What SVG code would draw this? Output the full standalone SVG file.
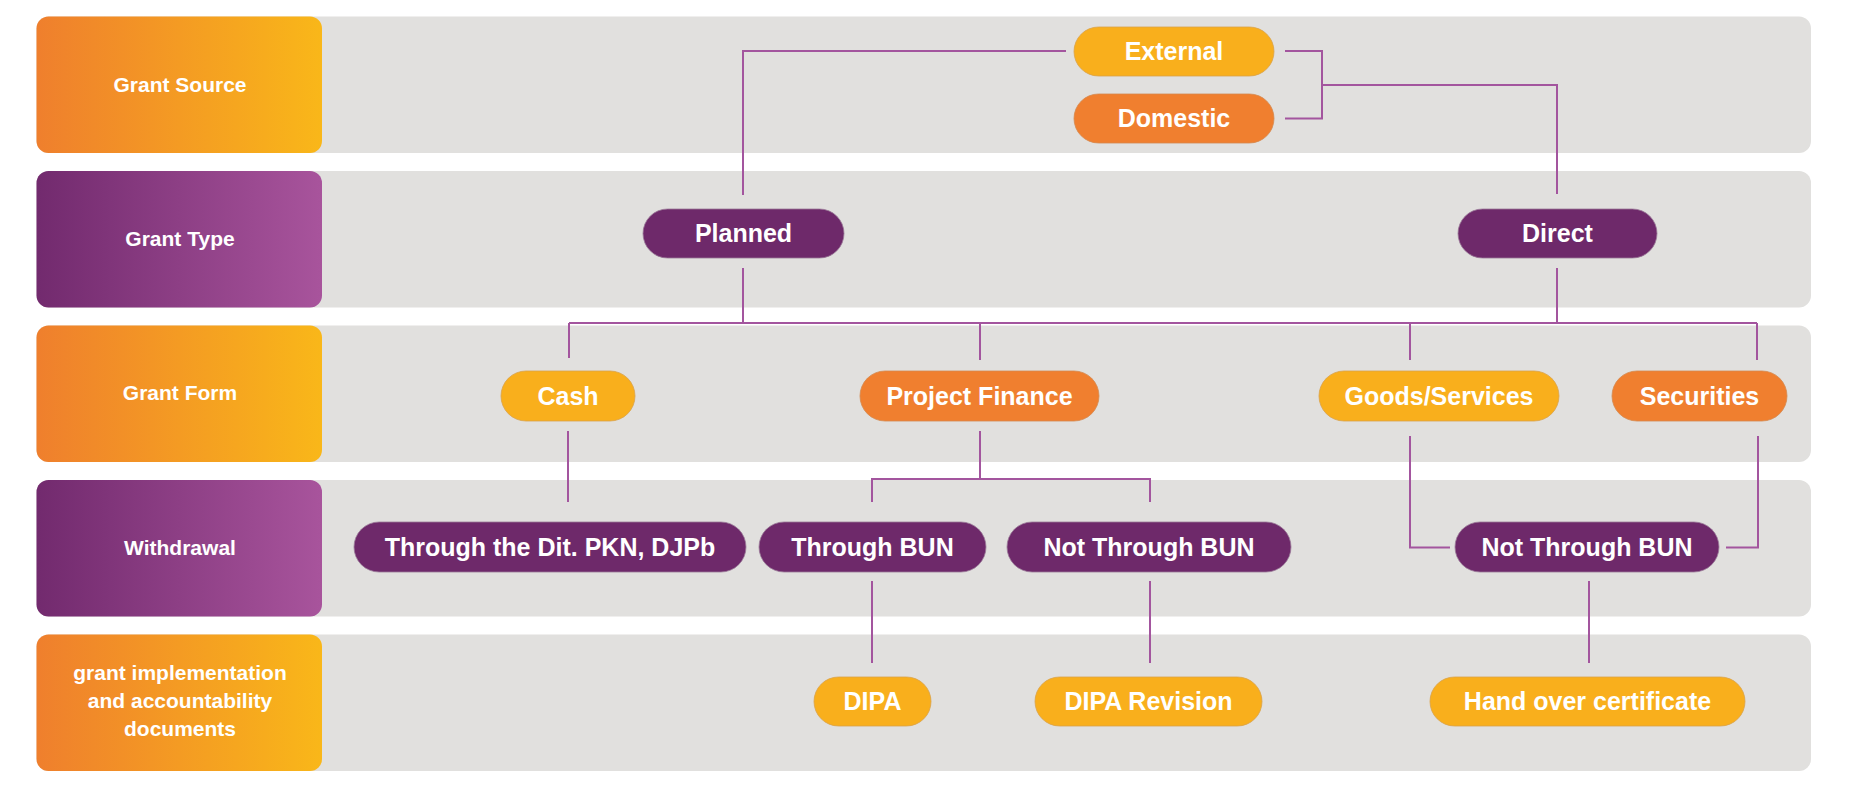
<svg xmlns="http://www.w3.org/2000/svg" width="1850" height="800" viewBox="0 0 1850 800">
<defs>
<linearGradient id="gOr" x1="0" y1="0" x2="1" y2="0"><stop offset="0" stop-color="#EF7F2D"/><stop offset="1" stop-color="#F9B719"/></linearGradient>
<linearGradient id="gPu" x1="0" y1="0" x2="1" y2="0"><stop offset="0" stop-color="#722A6E"/><stop offset="1" stop-color="#A8549C"/></linearGradient>
</defs>
<style>
.band{fill:#E1E0DE}
.lab{font-family:"Liberation Sans",Arial,sans-serif;font-weight:bold;font-size:21px;fill:#fff;text-anchor:middle}
.pt{font-family:"Liberation Sans",Arial,sans-serif;font-weight:bold;font-size:25px;fill:#fff;text-anchor:middle}
.y{fill:#F9AF1C;stroke:#d9a24a;stroke-width:0.8}
.o{fill:#F07F2F;stroke:#d4894f;stroke-width:0.8}
.p{fill:#6E296A;stroke:#9a7a98;stroke-width:0.8}
.c{fill:none;stroke:#A3559E;stroke-width:2}
</style>
<g id="rows">
<rect class="band" x="36.5" y="16.5" width="1774.5" height="136.5" rx="12"/>
<rect x="36.5" y="16.5" width="285.5" height="136.5" rx="12" fill="url(#gOr)"/>
<text class="lab" x="180" y="92">Grant Source</text>
<rect class="band" x="36.5" y="171" width="1774.5" height="136.5" rx="12"/>
<rect x="36.5" y="171" width="285.5" height="136.5" rx="12" fill="url(#gPu)"/>
<text class="lab" x="180" y="246">Grant Type</text>
<rect class="band" x="36.5" y="325.5" width="1774.5" height="136.5" rx="12"/>
<rect x="36.5" y="325.5" width="285.5" height="136.5" rx="12" fill="url(#gOr)"/>
<text class="lab" x="180" y="400">Grant Form</text>
<rect class="band" x="36.5" y="480" width="1774.5" height="136.5" rx="12"/>
<rect x="36.5" y="480" width="285.5" height="136.5" rx="12" fill="url(#gPu)"/>
<text class="lab" x="180" y="555">Withdrawal</text>
<rect class="band" x="36.5" y="634.5" width="1774.5" height="136.5" rx="12"/>
<rect x="36.5" y="634.5" width="285.5" height="136.5" rx="12" fill="url(#gOr)"/>
<text class="lab" x="180" y="680">grant implementation</text>
<text class="lab" x="180" y="708">and accountability</text>
<text class="lab" x="180" y="736">documents</text>
</g>
<g id="connectors">
<path class="c" d="M1066,51 H743 V195"/>
<path class="c" d="M1285,51 H1322 V118.5 H1285 M1322,85 H1557 V194"/>
<path class="c" d="M743,268 V323 M1557,268 V323 M569,323 H1757 M569,323 V358 M980,323 V360 M1410,323 V360 M1757,323 V360"/>
<path class="c" d="M568,431 V502"/>
<path class="c" d="M980,431 V479 M872,502 V479 H1150 V502"/>
<path class="c" d="M872,581 V663 M1150,581 V663"/>
<path class="c" d="M1410,436 V547.5 H1450 M1758,436 V547.5 H1726"/>
<path class="c" d="M1589,581 V663"/>
</g>
<g id="external"><rect class="y" x="1074" y="27" width="200" height="49" rx="24.5"/><text class="pt" x="1174" y="60">External</text></g>
<g id="domestic"><rect class="o" x="1074" y="94" width="200" height="49" rx="24.5"/><text class="pt" x="1174" y="127">Domestic</text></g>
<g id="planned"><rect class="p" x="643" y="209" width="201" height="49" rx="24.5"/><text class="pt" x="743.5" y="242">Planned</text></g>
<g id="direct"><rect class="p" x="1458" y="209" width="199" height="49" rx="24.5"/><text class="pt" x="1557.5" y="242">Direct</text></g>
<g id="cash"><rect class="y" x="501" y="371" width="134" height="50" rx="25"/><text class="pt" x="568" y="405">Cash</text></g>
<g id="project-finance"><rect class="o" x="860" y="371" width="239" height="50" rx="25"/><text class="pt" x="979.5" y="405">Project Finance</text></g>
<g id="goods-services"><rect class="y" x="1319" y="371" width="240" height="50" rx="25"/><text class="pt" x="1439" y="405">Goods/Services</text></g>
<g id="securities"><rect class="o" x="1612" y="371" width="175" height="50" rx="25"/><text class="pt" x="1699.5" y="405">Securities</text></g>
<g id="through-dit"><rect class="p" x="354" y="522" width="392" height="50" rx="25"/><text class="pt" x="550" y="556">Through the Dit. PKN, DJPb</text></g>
<g id="through-bun"><rect class="p" x="759" y="522" width="227" height="50" rx="25"/><text class="pt" x="872.5" y="556">Through BUN</text></g>
<g id="not-through-bun-1"><rect class="p" x="1007" y="522" width="284" height="50" rx="25"/><text class="pt" x="1149" y="556">Not Through BUN</text></g>
<g id="not-through-bun-2"><rect class="p" x="1455" y="522" width="264" height="50" rx="25"/><text class="pt" x="1587" y="556">Not Through BUN</text></g>
<g id="dipa"><rect class="y" x="814" y="677" width="117" height="49" rx="24.5"/><text class="pt" x="872.5" y="710">DIPA</text></g>
<g id="dipa-revision"><rect class="y" x="1035" y="677" width="227" height="49" rx="24.5"/><text class="pt" x="1148.5" y="710">DIPA Revision</text></g>
<g id="hand-over"><rect class="y" x="1430" y="677" width="315" height="49" rx="24.5"/><text class="pt" x="1587.5" y="710">Hand over certificate</text></g>
</svg>
